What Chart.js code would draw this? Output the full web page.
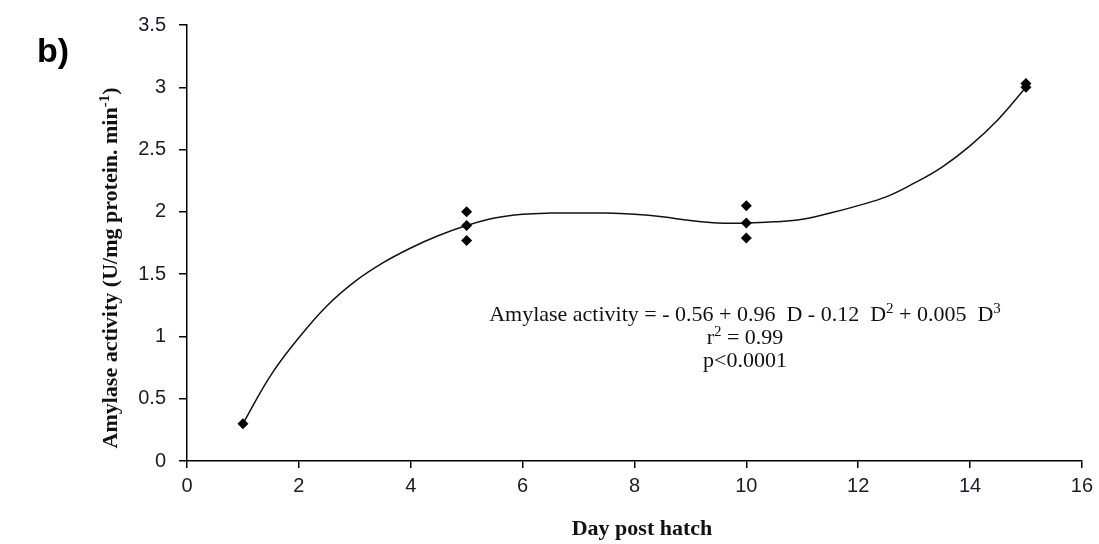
<!DOCTYPE html>
<html>
<head>
<meta charset="utf-8">
<script src="https://cdn.jsdelivr.net/npm/chart.js@4.4.0/dist/chart.umd.min.js"></script>
<style>
html, body { margin: 0; padding: 0; background: #fff; }
</style>
</head>
<body>
<canvas id="amylaseChart" width="1099" height="544"></canvas>
<script>
// measured activity per larva sample
const days = [1, 5, 5, 5, 10, 10, 10, 15, 15];
const activity = [0.30, 2.00, 1.89, 1.77, 2.05, 1.91, 1.79, 3.03, 3.00];

// polynomial trend line
const fitDays = [1, 1.5, 2, 2.5, 3, 3.5, 4, 4.5, 5, 5.5, 6, 6.5, 7, 7.5, 8, 8.5, 9, 9.5, 10, 10.5, 11, 11.5, 12, 12.5, 13, 13.5, 14, 14.5, 15];
const fitActivity = [0.30, 0.69, 0.99, 1.245, 1.44, 1.59, 1.71, 1.81, 1.89, 1.95, 1.98, 1.99, 1.99, 1.99, 1.98, 1.96, 1.93, 1.91, 1.91, 1.92, 1.94, 1.99, 2.05, 2.12, 2.23, 2.36, 2.53, 2.74, 3.00];

const xTickLabels = ['0', '2', '4', '6', '8', '10', '12', '14', '16'];
const yTickLabels = ['0', '0.5', '1', '1.5', '2', '2.5', '3', '3.5'];

const equationParts = [
    { t: 'Amylase activity = - 0.56 + 0.96  D - 0.12  D' }, { t: '2', sup: true },
    { t: ' + 0.005  D' }, { t: '3', sup: true }
];
const r2Parts = [{ t: 'r' }, { t: '2', sup: true }, { t: ' = 0.99' }];
const pParts = [{ t: 'p<0.0001' }];
const yTitleParts = [{ t: 'Amylase activity (U/mg protein. min' }, { t: '-1', sup: true }, { t: ')' }];
const xTitle = 'Day post hatch';
const panelLabel = 'b)';

function drawParts(ctx, parts, cx, y, size, weight) {
    const big = weight + ' ' + size + 'px "Liberation Serif", "Times New Roman", serif';
    const small = weight + ' ' + Math.round(size * 0.68) + 'px "Liberation Serif", "Times New Roman", serif';
    let total = 0;
    parts.forEach(p => {
        ctx.font = p.sup ? small : big;
        total += ctx.measureText(p.t).width;
    });
    let x = cx - total / 2;
    ctx.textAlign = 'left';
    ctx.textBaseline = 'alphabetic';
    parts.forEach(p => {
        ctx.font = p.sup ? small : big;
        ctx.fillText(p.t, x, p.sup ? y - size * 0.38 : y);
        x += ctx.measureText(p.t).width;
    });
}

const textPlugin = {
    id: 'textPlugin',
    afterDraw(chart) {
        const ctx = chart.ctx;
        ctx.save();
        ctx.fillStyle = '#111';
        drawParts(ctx, equationParts, 745, 321, 22, 'normal');
        drawParts(ctx, r2Parts, 745, 344, 22, 'normal');
        drawParts(ctx, pParts, 745, 367, 22, 'normal');

        ctx.font = 'bold 22px "Liberation Serif", "Times New Roman", serif';
        ctx.textAlign = 'center';
        ctx.textBaseline = 'alphabetic';
        ctx.fillText(xTitle, 642, 535);

        ctx.save();
        ctx.translate(117, 268);
        ctx.rotate(-Math.PI / 2);
        drawParts(ctx, yTitleParts, 0, 0, 22, 'bold');
        ctx.restore();

        ctx.font = 'bold 34px "Liberation Sans", Arial, sans-serif';
        ctx.textAlign = 'left';
        ctx.textBaseline = 'middle';
        ctx.fillStyle = '#000';
        ctx.fillText(panelLabel, 37, 53);
        ctx.restore();
    }
};

const tickFont = { family: '"Liberation Sans", Arial, sans-serif', size: 20 };

const ctx = document.getElementById('amylaseChart').getContext('2d');
const chart = new Chart(ctx, {
    type: 'scatter',
    data: {
        datasets: [
            {
                label: 'Amylase activity',
                data: days.map((d, i) => ({ x: d, y: activity[i] })),
                pointStyle: 'rectRot',
                pointRadius: 5.5,
                backgroundColor: '#000',
                borderColor: '#000',
                borderWidth: 0
            },
            {
                label: 'Fit',
                data: fitDays.map((d, i) => ({ x: d, y: fitActivity[i] })),
                showLine: true,
                pointRadius: 0,
                borderColor: '#111',
                borderWidth: 1.5,
                tension: 0.4
            }
        ]
    },
    options: {
        responsive: false,
        animation: false,
        layout: { padding: { left: 0, top: 24, right: 14, bottom: 0 } },
        plugins: { legend: { display: false }, tooltip: { enabled: false } },
        scales: {
            x: {
                type: 'linear',
                min: 0,
                max: 16,
                ticks: {
                    stepSize: 2,
                    callback: (v, i) => xTickLabels[i],
                    font: tickFont,
                    color: '#1a1a2a',
                    padding: 6,
                    maxRotation: 0
                },
                grid: { drawOnChartArea: false, tickLength: 7, color: '#000', lineWidth: 1.5 },
                border: { color: '#000', width: 1.5 },
                afterFit: s => { s.height = 83; }
            },
            y: {
                min: 0,
                max: 3.5,
                ticks: {
                    stepSize: 0.5,
                    callback: (v, i) => yTickLabels[i],
                    font: tickFont,
                    color: '#1a1a2a',
                    padding: 13
                },
                grid: { drawOnChartArea: false, tickLength: 8, color: '#000', lineWidth: 1.5 },
                border: { color: '#000', width: 1.5 },
                afterFit: s => { s.width = 187; }
            }
        }
    },
    plugins: [textPlugin]
});
</script>
</body>
</html>
